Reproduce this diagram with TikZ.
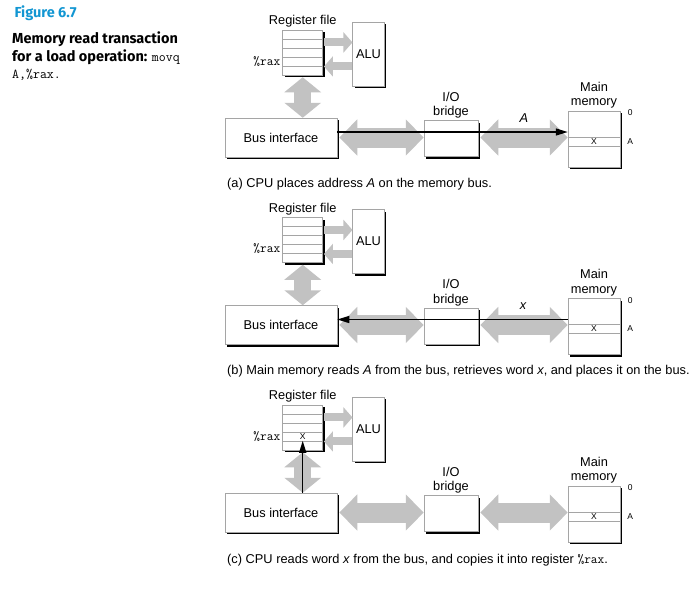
\documentclass[tikz,border=0pt]{standalone}
\usepackage{fontspec}
\setmainfont{Liberation Sans}
\newfontfamily\capfont{Fira Sans}
\usetikzlibrary{arrows.meta,shadows}
\definecolor{figblue}{RGB}{18,150,210}
\definecolor{busgray}{RGB}{194,194,194}
\definecolor{edgegray}{RGB}{165,165,165}
\begin{document}
\begin{tikzpicture}[x=1pt,y=-1pt,every node/.style={font=\fontsize{12.8}{14.5}\selectfont}]
\tikzset{
  unit/.style={draw=edgegray,line width=0.5pt,fill=white,inner sep=0pt,
    drop shadow={fill=black,opacity=1,shadow xshift=2pt,shadow yshift=-2pt}},
  tiny/.style={font=\fontsize{8.5}{10}\selectfont,inner sep=0pt},
  fatbus/.style={busgray,line width=20pt,
    {Triangle[width=35pt,length=18pt]}-{Triangle[width=35pt,length=18pt]}},
  fatlink/.style={busgray,line width=17pt,
    {Triangle[width=36pt,length=15pt]}-{Triangle[width=36pt,length=15pt]}},
  aluin/.style={busgray,line width=8pt,-{Triangle[width=20pt,length=9pt]}},
  wire/.style={black,line width=1.4pt,-{Triangle[width=7pt,length=12pt]}}
}
\useasboundingbox (0,0) rectangle (700,603);
\node[anchor=west,text=figblue,font=\capfont\bfseries\fontsize{14.5}{16}\selectfont] (fig) at (11,13) {Figure 6.7};
\node[anchor=north west,align=left,inner sep=0pt,font=\capfont\bfseries\fontsize{14.5}{17.5}\selectfont] (title) at (12,32)
  {Memory read transaction\\for a load operation: {\mdseries\ttfamily\fontsize{13.5}{17.5}\selectfont movq}\\{\mdseries\ttfamily\fontsize{13.5}{17.5}\selectfont A,\%rax.}};
\foreach \p/\dy in {a/0,b/187.5,c/375}{
\begin{scope}[yshift=-\dy pt]
\node[unit,minimum width=40pt,minimum height=45pt] (rf\p) at (302.7,52.5) {};
\foreach \r in {1,...,4}
  \draw[edgegray,line width=0.5pt] ([yshift={-9pt*\r}]rf\p.north west) -- ([yshift={-9pt*\r}]rf\p.north east);
\node[anchor=south,inner sep=2pt] (rft\p) at (rf\p.north) {Register file};
\node[anchor=east,inner sep=2pt,font=\ttfamily\fontsize{13}{14}\selectfont] (rax\p) at ([yshift=-31.5pt]rf\p.north west) {\%rax};
\node[unit,minimum width=31.6pt,minimum height=64pt] (alu\p) at (368.5,54) {ALU};
\node[unit,minimum width=112pt,minimum height=39pt] (bus\p) at (281,137.5) {Bus interface};
\node[unit,minimum width=54pt,minimum height=36pt] (bridge\p) at (451,138.7) {};
\node[anchor=south,align=center,inner sep=2pt] (brt\p) at (bridge\p.north) {I/O\\bridge};
\node[unit,minimum width=52pt,minimum height=56pt] (mem\p) at (594,139) {};
\draw[edgegray,line width=0.5pt] ([yshift=-26.3pt]mem\p.north west) -- ([yshift=-26.3pt]mem\p.north east);
\draw[edgegray,line width=0.5pt] ([yshift=-35pt]mem\p.north west) -- ([yshift=-35pt]mem\p.north east);
\node[tiny] (memx\p) at ([yshift=-30.7pt]mem\p.north) {X};
\node[anchor=south,align=center,inner sep=2pt] (memt\p) at (mem\p.north) {Main\\memory};
\node[tiny] (zero\p) at ([xshift=10pt,yshift=-2pt]mem\p.north east) {0};
\node[tiny] (addr\p) at ([xshift=10pt,yshift=-30.7pt]mem\p.north east) {A};
\coordinate (bl\p) at ([xshift=2pt]bus\p.east);
\coordinate (br\p) at ([xshift=2pt]bridge\p.east);
\draw[fatbus] (bl\p) -- (bl\p -| bridge\p.west);
\draw[fatbus] (br\p |- bl\p) -- (bl\p -| mem\p.west);
\coordinate (rb\p) at ([yshift=-2pt]rf\p.south);
\draw[fatlink] (rb\p) -- (rb\p |- bus\p.north);
\coordinate (ro\p) at ([xshift=1pt,yshift=-12.7pt]rf\p.north east);
\coordinate (ri\p) at ([xshift=1pt,yshift=-36.7pt]rf\p.north east);
\draw[aluin] (ro\p) -- (ro\p -| alu\p.west);
\draw[aluin] (ri\p -| alu\p.west) -- (ri\p);
\end{scope}
}
\coordinate (tapa) at ([yshift=5.5pt]busa.east);
\draw[wire] (tapa) -- (tapa -| mema.west);
\node[font=\fontsize{12.8}{14.5}\selectfont\itshape] (adrlab) at (524,118) {A};
\coordinate (tapb) at ([yshift=5.5pt]busb.east);
\draw[wire] (tapb -| memb.west) -- (tapb);
\node[font=\fontsize{12.8}{14.5}\selectfont\itshape] (wordlab) at (523,306.5) {x};
\node[tiny] (regx) at ([yshift=-31.5pt]rfc.north) {X};
\draw[wire] (rfc.south |- busc.north) -- ([yshift=-36pt]rfc.north);
\node[anchor=west,inner sep=0pt] (capa) at (227,184) {(a) CPU places address \emph{A} on the memory bus.};
\node[anchor=west,inner sep=0pt] (capb) at (227,371.5) {(b) Main memory reads \emph{A} from the bus, retrieves word \emph{x}, and places it on the bus.};
\node[anchor=west,inner sep=0pt] (capc) at (227,560) {(c) CPU reads word \emph{x} from the bus, and copies it into register {\ttfamily\fontsize{13}{14}\selectfont\%rax}.};
\end{tikzpicture}
\end{document}
